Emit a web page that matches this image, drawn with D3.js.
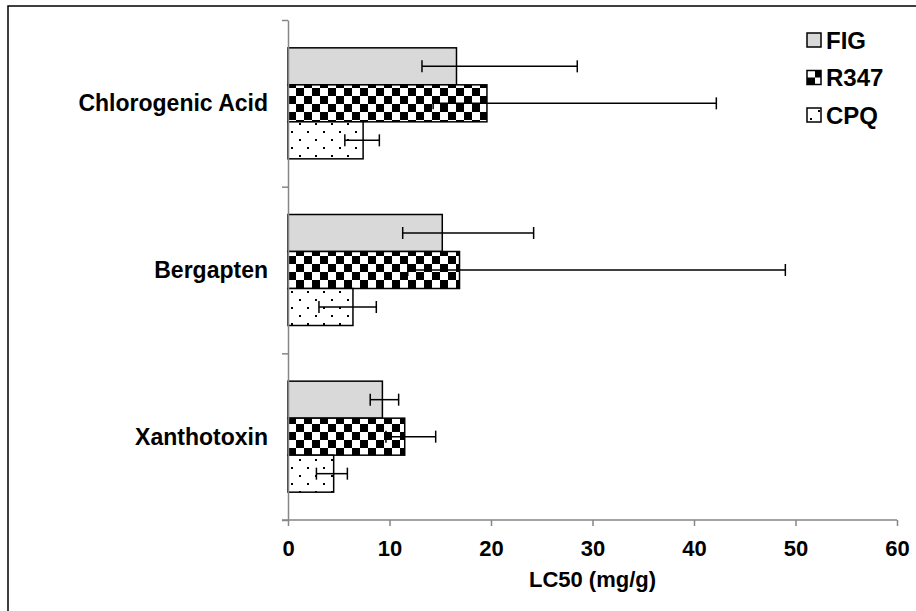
<!DOCTYPE html>
<html>
<head>
<meta charset="utf-8">
<script src="https://cdn.jsdelivr.net/npm/d3@7"></script>
<style>
  body { margin: 0; background: #fff; }
  text { font-family: "Liberation Sans", Arial, sans-serif; font-weight: bold; fill: #000; }
</style>
</head>
<body>
<div id="chart"></div>
<script>
// categories top to bottom
var categories = ["Chlorogenic Acid", "Bergapten", "Xanthotoxin"];
var series = ["FIG", "R347", "CPQ"];

// LC50 values and confidence limits, per category
var fig_values  = [16.6, 15.2, 9.3];
var fig_lower   = [13.2, 11.3, 8.1];
var fig_upper   = [28.5, 24.2, 10.9];
var r347_values = [19.6, 16.9, 11.5];
var r347_lower  = [14.3, 11.8, 9.65];
var r347_upper  = [42.2, 49.0, 14.55];
var cpq_values  = [7.4, 6.4, 4.5];
var cpq_lower   = [5.6, 3.05, 2.8];
var cpq_upper   = [9.0, 8.7, 5.85];

var x_ticks = [0, 10, 20, 30, 40, 50, 60];

const width = 916, height = 611;

const svg = d3.select("#chart")
  .append("svg")
    .attr("width", width)
    .attr("height", height);

// pattern fills
var defs = svg.append("defs");
var checker = defs.append("pattern")
  .attr("id", "checker")
  .attr("patternUnits", "userSpaceOnUse")
  .attr("width", 16).attr("height", 16);
checker.append("rect").attr("width", 16).attr("height", 16).attr("fill", "#fff");
checker.append("rect").attr("width", 8).attr("height", 8).attr("fill", "#000");
checker.append("rect").attr("x", 8).attr("y", 8).attr("width", 8).attr("height", 8).attr("fill", "#000");

var dots = defs.append("pattern")
  .attr("id", "dots")
  .attr("patternUnits", "userSpaceOnUse")
  .attr("width", 16).attr("height", 16);
dots.append("rect").attr("width", 16).attr("height", 16).attr("fill", "#fff");
dots.append("rect").attr("x", 3).attr("y", 3).attr("width", 2).attr("height", 2).attr("fill", "#000");
dots.append("rect").attr("x", 11).attr("y", 11).attr("width", 2).attr("height", 2).attr("fill", "#000");

var fills = { "FIG": "#d9d9d9", "R347": "url(#checker)", "CPQ": "url(#dots)" };

// outer frame (right and bottom edges fall outside the picture)
svg.append("rect")
  .attr("x", 8).attr("y", 6)
  .attr("width", 940).attr("height", 640)
  .attr("fill", "none")
  .attr("stroke", "#000")
  .attr("stroke-width", 1.5);

const x = d3.scaleLinear().domain([0, 60]).range([288, 897]);

const y = d3.scaleBand()
  .domain(categories)
  .range([20, 520])
  .paddingInner(0.334)
  .paddingOuter(0.167);

const ySub = d3.scaleBand()
  .domain(series)
  .range([0, y.bandwidth()]);

// build rows
var rows = [];
categories.forEach(function(c, i) {
  rows.push({cat: c, s: "FIG",  v: fig_values[i],  lo: fig_lower[i],  hi: fig_upper[i]});
  rows.push({cat: c, s: "R347", v: r347_values[i], lo: r347_lower[i], hi: r347_upper[i]});
  rows.push({cat: c, s: "CPQ",  v: cpq_values[i],  lo: cpq_lower[i],  hi: cpq_upper[i]});
});

// bars
svg.append("g")
  .selectAll("rect")
  .data(rows)
  .join("rect")
    .attr("x", x(0))
    .attr("y", d => y(d.cat) + ySub(d.s))
    .attr("width", d => x(d.v) - x(0))
    .attr("height", ySub.bandwidth())
    .attr("fill", d => fills[d.s])
    .attr("stroke", "#000")
    .attr("stroke-width", 1.5);

// error bars
var err = svg.append("g").attr("stroke", "#000").attr("stroke-width", 1.5);
rows.forEach(function(d) {
  var cy = y(d.cat) + ySub(d.s) + ySub.bandwidth() / 2;
  err.append("line").attr("x1", x(d.lo)).attr("x2", x(d.hi)).attr("y1", cy).attr("y2", cy);
  err.append("line").attr("x1", x(d.lo)).attr("x2", x(d.lo)).attr("y1", cy - 6).attr("y2", cy + 6);
  err.append("line").attr("x1", x(d.hi)).attr("x2", x(d.hi)).attr("y1", cy - 6).attr("y2", cy + 6);
});

// y axis: ticks at category boundaries
const yEdge = d3.scaleLinear().domain([0, categories.length]).range([20, 520]);
var yAxis = svg.append("g")
  .attr("transform", `translate(${x(0)},0)`)
  .call(d3.axisLeft(yEdge).tickValues(d3.range(categories.length + 1)).tickSize(6).tickSizeOuter(0).tickFormat(""));
yAxis.selectAll("line, path").attr("stroke", "#868686").attr("stroke-width", 1.5);

// x axis
var xAxis = svg.append("g")
  .attr("transform", `translate(0,520)`)
  .call(d3.axisBottom(x).tickValues(x_ticks).tickSize(6).tickSizeOuter(0).tickPadding(14));
xAxis.select(".domain").attr("d", `M${x(0) - 6},0H${x(60)}`);
xAxis.selectAll("line, path").attr("stroke", "#868686").attr("stroke-width", 1.5);
xAxis.selectAll("text")
  .attr("font-size", 22)
  .attr("font-family", "Liberation Sans, Arial, sans-serif")
  .attr("font-weight", "bold")
  .attr("fill", "#000");

// category labels
svg.append("g")
  .selectAll("text")
  .data(categories)
  .join("text")
    .attr("x", 268)
    .attr("y", d => y(d) + y.bandwidth() / 2)
    .attr("text-anchor", "end")
    .attr("dominant-baseline", "central")
    .attr("font-size", 23)
    .text(d => d);

// axis title
svg.append("text")
  .attr("x", (x(0) + x(60)) / 2)
  .attr("y", 587)
  .attr("text-anchor", "middle")
  .attr("font-size", 22)
  .text("LC50 (mg/g)");

// legend
var legend = svg.append("g")
  .selectAll("g")
  .data(series)
  .join("g")
    .attr("transform", (d, i) => `translate(807,${40 + i * 37.5})`);
legend.append("rect")
  .attr("x", 0).attr("y", -7)
  .attr("width", 14).attr("height", 14)
  .attr("fill", d => fills[d])
  .attr("stroke", "#000")
  .attr("stroke-width", 1.5);
legend.append("text")
  .attr("x", 19)
  .attr("y", 0)
  .attr("dominant-baseline", "central")
  .attr("font-size", 24)
  .text(d => d);
</script>
</body>
</html>
